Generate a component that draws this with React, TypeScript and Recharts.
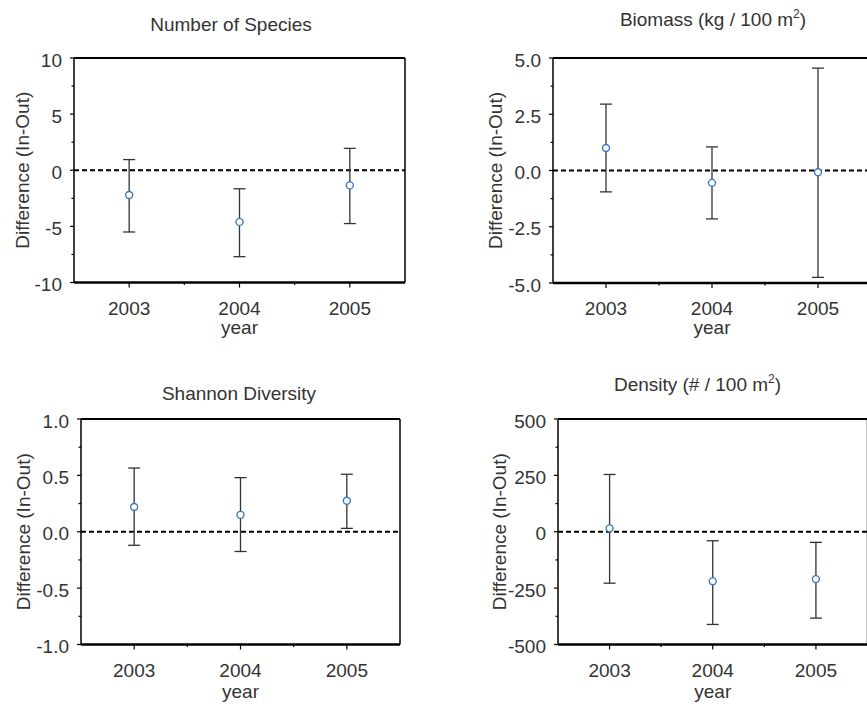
import React from 'react';
import { ScatterChart, Scatter, XAxis, YAxis, ErrorBar, ReferenceLine, Label } from 'recharts';

// years on the x axis
const years = [2003, 2004, 2005];
const yearTicks = [2003, 2004, 2005];
const yearTickLabels = ['2003', '2004', '2005'];
const yearMinorTicks = [2003.5, 2004.5];

// Number of Species
const speciesMean = [-2.2, -4.6, -1.35];
const speciesLow = [-5.5, -7.7, -4.75];
const speciesHigh = [0.95, -1.65, 1.95];
const speciesTicks = [-10, -5, 0, 5, 10];
const speciesTickLabels = ['-10', '-5', '0', '5', '10'];
const speciesMinorTicks = [-7.5, -2.5, 2.5, 7.5];

// Biomass (kg / 100 m2)
const biomassMean = [1.0, -0.55, -0.08];
const biomassLow = [-0.95, -2.15, -4.75];
const biomassHigh = [2.95, 1.05, 4.55];
const biomassTicks = [-5, -2.5, 0, 2.5, 5];
const biomassTickLabels = ['-5.0', '-2.5', '0.0', '2.5', '5.0'];
const biomassMinorTicks = [-3.75, -1.25, 1.25, 3.75];

// Shannon Diversity
const shannonMean = [0.22, 0.15, 0.275];
const shannonLow = [-0.12, -0.175, 0.03];
const shannonHigh = [0.565, 0.48, 0.51];
const shannonTicks = [-1, -0.5, 0, 0.5, 1];
const shannonTickLabels = ['-1.0', '-0.5', '0.0', '0.5', '1.0'];
const shannonMinorTicks = [-0.75, -0.25, 0.25, 0.75];

// Density (# / 100 m2)
const densityMean = [15, -220, -210];
const densityLow = [-228, -411, -383];
const densityHigh = [254, -40, -47];
const densityTicks = [-500, -250, 0, 250, 500];
const densityTickLabels = ['-500', '-250', '0', '250', '500'];
const densityMinorTicks = [-375, -125, 125, 375];

const FONT = '"Liberation Sans", Arial, sans-serif';
const TEXT = '#333';
const AXIS_W = 80;
const PAD_TOP = 10;
const X_H = 62;

interface PanelProps {
  left: number;
  top: number;
  plotW: number;
  plotH: number;
  labelGap: number;
  yearOffset: number;
  mean: number[];
  low: number[];
  high: number[];
  ticks: number[];
  tickLabels: string[];
  minorTicks: number[];
}

const Panel: React.FC<PanelProps> = (p) => {
  const data = years.map((year, i) => ({
    year,
    mean: p.mean[i],
    err: [p.mean[i] - p.low[i], p.high[i] - p.mean[i]],
  }));
  const yMin = p.ticks[0];
  const yMax = p.ticks[p.ticks.length - 1];

  const renderYTick = (props: any) => {
    const { x, y, payload } = props;
    const idx = p.ticks.indexOf(payload.value);
    const major = idx >= 0;
    return (
      <g>
        <line x1={x - (major ? 4 : 2.5)} x2={x} y1={y} y2={y} stroke="#000" strokeWidth={1.2} />
        {major && (
          <text x={x - 12} y={y + 8.5} textAnchor="end" fill={TEXT} fontSize={19} fontFamily={FONT}>
            {p.tickLabels[idx]}
          </text>
        )}
      </g>
    );
  };

  const renderXTick = (props: any) => {
    const { x, y, payload } = props;
    const idx = yearTicks.indexOf(payload.value);
    const major = idx >= 0;
    return (
      <g>
        <line x1={x} x2={x} y1={y} y2={y + (major ? 5 : 2.5)} stroke="#000" strokeWidth={1.2} />
        {major && (
          <text x={x} y={y + 32} textAnchor="middle" fill={TEXT} fontSize={19} fontFamily={FONT}>
            {yearTickLabels[idx]}
          </text>
        )}
      </g>
    );
  };

  const yLabel = () => {
    const lx = AXIS_W - p.labelGap;
    const ly = PAD_TOP + p.plotH / 2;
    return (
      <text x={lx} y={ly} transform={`rotate(-90 ${lx} ${ly})`} textAnchor="middle" fill={TEXT} fontSize={19} fontFamily={FONT}>
        Difference (In-Out)
      </text>
    );
  };

  const xLabel = () => (
    <text x={AXIS_W + p.plotW / 2} y={PAD_TOP + p.plotH + p.yearOffset} textAnchor="middle" fill={TEXT} fontSize={19} fontFamily={FONT}>
      year
    </text>
  );

  return (
    <div style={{ position: 'absolute', left: p.left - AXIS_W, top: p.top - PAD_TOP }}>
      <ScatterChart
        width={p.plotW + AXIS_W + 10}
        height={p.plotH + PAD_TOP + X_H}
        margin={{ top: PAD_TOP, right: 10, bottom: 0, left: 0 }}
      >
        <XAxis
          type="number"
          dataKey="year"
          domain={[2002.5, 2005.5]}
          allowDataOverflow
          ticks={[...yearTicks, ...yearMinorTicks]}
          interval={0}
          height={X_H}
          tickSize={0}
          tickMargin={0}
          tickLine={false}
          tick={renderXTick}
          axisLine={{ stroke: '#000', strokeWidth: 2.5 }}
        >
          <Label content={xLabel} />
        </XAxis>
        <YAxis
          type="number"
          dataKey="mean"
          domain={[yMin, yMax]}
          allowDataOverflow
          ticks={[...p.ticks, ...p.minorTicks]}
          interval={0}
          width={AXIS_W}
          tickSize={0}
          tickMargin={0}
          tickLine={false}
          tick={renderYTick}
          axisLine={{ stroke: '#000', strokeWidth: 1.5 }}
        >
          <Label content={yLabel} />
        </YAxis>
        <ReferenceLine y={yMax} stroke="#000" strokeWidth={2} />
        <ReferenceLine x={2005.5} stroke="#000" strokeWidth={1.5} />
        <ReferenceLine y={0} stroke="#000" strokeWidth={2} strokeDasharray="5 3" />
        <Scatter
          data={data}
          isAnimationActive={false}
          shape={(s: any) => (
            <circle cx={s.cx} cy={s.cy} r={3.5} fill="#fff" stroke="#3a78c0" strokeWidth={1.4} />
          )}
        >
          <ErrorBar dataKey="err" direction="y" width={6} stroke="#333" strokeWidth={1.3} />
        </Scatter>
      </ScatterChart>
    </div>
  );
};

const Sup: React.FC<{ children: React.ReactNode }> = ({ children }) => (
  <>
    <tspan dy={-8} fontSize={12}>{children}</tspan>
    <tspan dy={8}>)</tspan>
  </>
);

export default function App() {
  return (
    <div
      style={{
        position: 'absolute',
        left: 0,
        top: 0,
        width: 867,
        height: 704,
        overflow: 'hidden',
        background: '#fff',
        fontFamily: FONT,
      }}
    >
      <Panel left={74} top={57.5} plotW={331} plotH={224.5} labelGap={45.5} yearOffset={51}
        mean={speciesMean} low={speciesLow} high={speciesHigh}
        ticks={speciesTicks} tickLabels={speciesTickLabels} minorTicks={speciesMinorTicks} />
      <Panel left={553} top={57.5} plotW={318} plotH={225} labelGap={51.5} yearOffset={51}
        mean={biomassMean} low={biomassLow} high={biomassHigh}
        ticks={biomassTicks} tickLabels={biomassTickLabels} minorTicks={biomassMinorTicks} />
      <Panel left={81} top={418.5} plotW={319} plotH={225.5} labelGap={51.5} yearOffset={53.5}
        mean={shannonMean} low={shannonLow} high={shannonHigh}
        ticks={shannonTicks} tickLabels={shannonTickLabels} minorTicks={shannonMinorTicks} />
      <Panel left={558} top={418.5} plotW={309.5} plotH={225.5} labelGap={52.5} yearOffset={53}
        mean={densityMean} low={densityLow} high={densityHigh}
        ticks={densityTicks} tickLabels={densityTickLabels} minorTicks={densityMinorTicks} />

      <svg width={867} height={704} style={{ position: 'absolute', left: 0, top: 0, pointerEvents: 'none' }}>
        <g fill={TEXT} fontSize={19} fontFamily={FONT} textAnchor="middle">
          <text x={231} y={31}>Number of Species</text>
          <text x={713} y={26}>Biomass (kg / 100 m<Sup>2</Sup></text>
          <text x={239} y={400}>Shannon Diversity</text>
          <text x={697.5} y={390.5}>Density (# / 100 m<Sup>2</Sup></text>
        </g>
      </svg>
    </div>
  );
}
